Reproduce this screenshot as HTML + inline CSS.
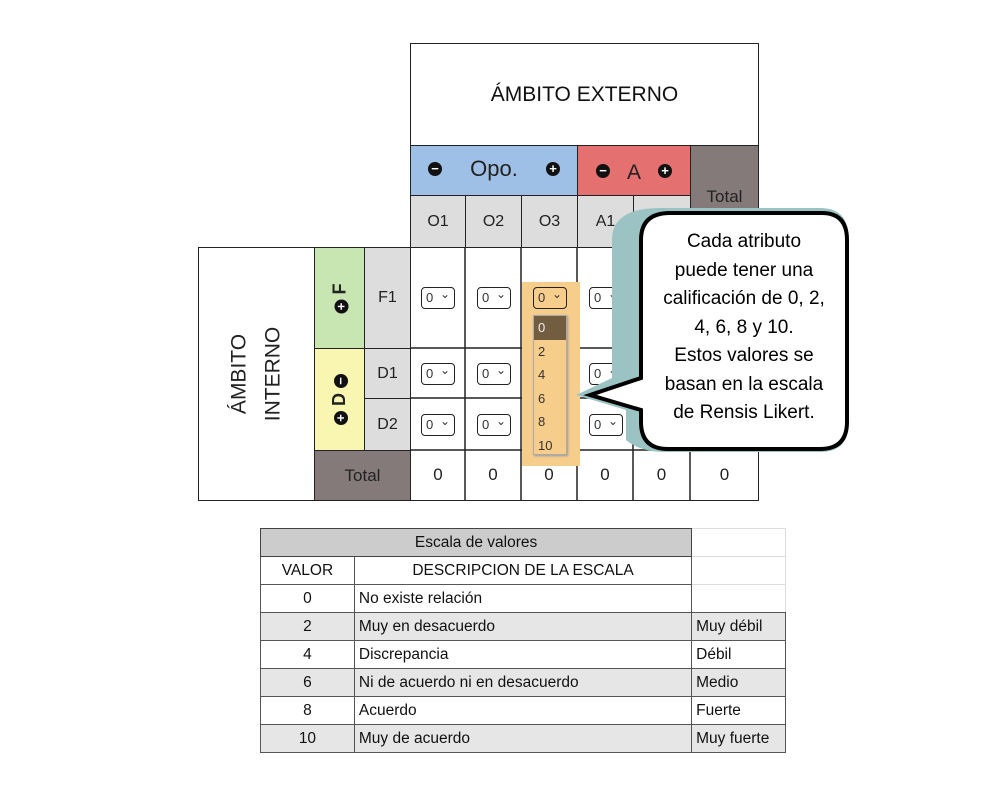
<!DOCTYPE html><html><head><meta charset="utf-8"><style>
body{margin:0;width:1004px;height:790px;background:#fff;position:relative;overflow:hidden;font-family:"Liberation Sans",sans-serif}
.a{position:absolute;box-sizing:border-box;display:flex;align-items:center;justify-content:center;color:#222}
.b{border:1px solid #222}
.sel{position:absolute;width:34px;height:22px;border:1.5px solid #222;border-radius:4px;background:#fff;font-size:13px;box-sizing:border-box;padding-left:4px;line-height:19px;color:#333}
.sel:after{content:"⌄";position:absolute;right:4px;top:-3px;font-size:12px}
.t td{border:1px solid #555;padding:0 4px;height:27px;font-size:15.5px;color:#111}
.ic{display:inline-block;width:14px;height:14px;border-radius:50%;background:#111;color:#fff;font-size:13px;line-height:13px;text-align:center;font-weight:bold}
</style></head><body>
<div class="a b" style="left:410px;top:43px;width:349px;height:103px;font-size:21px;color:#111;font-weight:500">ÁMBITO EXTERNO</div>
<div class="a b" style="left:410px;top:145px;width:168px;height:51px;background:#9fc0e6;font-size:22px;justify-content:space-between;padding:0 17px 4px 17px"><span class="ic">−</span>Opo.<span class="ic">+</span></div>
<div class="a b" style="left:577px;top:145px;width:114px;height:51px;background:#e57070;font-size:21px;justify-content:space-between;padding:0 18px 0 18px"><span class="ic">−</span><span style="margin-top:4px">A</span><span class="ic">+</span></div>
<div class="a b" style="left:690px;top:145px;width:69px;height:103px;background:#857a7a;font-size:17px">Total</div>
<div class="a b" style="left:410px;top:195px;width:56px;height:53px;background:#ddd;font-size:16px">O1</div>
<div class="a b" style="left:465px;top:195px;width:57px;height:53px;background:#ddd;font-size:16px">O2</div>
<div class="a b" style="left:521px;top:195px;width:57px;height:53px;background:#ddd;font-size:16px">O3</div>
<div class="a b" style="left:577px;top:195px;width:57px;height:53px;background:#ddd;font-size:16px">A1</div>
<div class="a b" style="left:633px;top:195px;width:58px;height:53px;background:#ddd;font-size:16px">A2</div>
<div class="a b" style="left:198px;top:247px;width:117px;height:254px"><div style="transform:rotate(-90deg);font-size:21px;text-align:center;line-height:34px;white-space:nowrap">ÁMBITO<br>INTERNO</div></div>
<div class="a b" style="left:314px;top:247px;width:51px;height:102px;background:#c7e6b2"><div style="transform:rotate(-90deg);font-size:18px;font-weight:bold;white-space:nowrap"><span class="ic">+</span> F</div></div>
<div class="a b" style="left:314px;top:348px;width:51px;height:103px;background:#f8f6b0"><div style="transform:rotate(-90deg);font-size:18px;font-weight:bold;white-space:nowrap"><span class="ic">+</span> D <span class="ic">−</span></div></div>
<div class="a b" style="left:364px;top:247px;width:47px;height:102px;background:#ddd;font-size:16px">F1</div>
<div class="a b" style="left:364px;top:348px;width:47px;height:51px;background:#ddd;font-size:16px">D1</div>
<div class="a b" style="left:364px;top:398px;width:47px;height:53px;background:#ddd;font-size:16px">D2</div>
<div class="a b" style="left:314px;top:450px;width:97px;height:51px;background:#857a7a;font-size:17px">Total</div>
<div style="position:absolute;left:410px;top:247px;width:349px;height:254px;border:1px solid #222;box-sizing:border-box"></div>
<svg style="position:absolute;left:0;top:0" width="1004" height="790"><g stroke="#222" stroke-width="1.5">
<line x1="465" y1="247" x2="465" y2="500"/><line x1="521" y1="247" x2="521" y2="500"/><line x1="577" y1="247" x2="577" y2="500"/><line x1="633" y1="247" x2="633" y2="500"/><line x1="690" y1="247" x2="690" y2="500"/>
<line x1="410" y1="348" x2="759" y2="348"/><line x1="410" y1="398" x2="759" y2="398"/><line x1="410" y1="450" x2="759" y2="450"/></g></svg>
<div style="position:absolute;left:522px;top:282px;width:58px;height:184px;background:#f7cd8c"></div>
<div class="sel" style="left:421px;top:287px">0</div><div class="sel" style="left:477px;top:287px">0</div><div class="sel" style="left:533px;top:287px;background:#f7cd8c">0</div><div class="sel" style="left:589px;top:287px">0</div>
<div class="sel" style="left:421px;top:363px">0</div><div class="sel" style="left:477px;top:363px">0</div><div class="sel" style="left:589px;top:363px">0</div>
<div class="sel" style="left:421px;top:414px">0</div><div class="sel" style="left:477px;top:414px">0</div><div class="sel" style="left:589px;top:414px">0</div>
<div style="position:absolute;left:533px;top:315px;width:34px;height:140px;background:#f7cd8c;border:1px solid #aaa;box-sizing:border-box;font-size:13px;color:#333;line-height:23.5px;padding-left:4px;box-shadow:1px 1px 2px #999">
<div style="background:#735d40;color:#eee;margin-left:-4px;padding-left:4px">0</div>2<br>4<br>6<br>8<br>10</div>
<div class="a" style="left:410px;top:450px;width:56px;height:50px;font-size:17px">0</div>
<div class="a" style="left:465px;top:450px;width:56px;height:50px;font-size:17px">0</div>
<div class="a" style="left:521px;top:450px;width:56px;height:50px;font-size:17px">0</div>
<div class="a" style="left:577px;top:450px;width:56px;height:50px;font-size:17px">0</div>
<div class="a" style="left:633px;top:450px;width:57px;height:50px;font-size:17px">0</div>
<div class="a" style="left:690px;top:450px;width:69px;height:50px;font-size:17px">0</div>
<svg style="position:absolute;left:0;top:0" width="1004" height="790">
<path d="M660,208 H820 Q848,208 848,236 V425 Q848,452 820,452 H665 Q640,452 626,440 V410 L576,395 L612,378 V240 Q612,208 660,208Z" fill="#9bc3c3"/>
<path d="M670,213 H822 Q847,213 847,240 V422 Q847,449 820,449 H668 Q641,449 641,422 V410 L590,395 L641,378 V240 Q641,213 670,213Z" fill="#fff" stroke="#000" stroke-width="4"/>
</svg>
<div class="a" style="left:641px;top:228px;width:206px;height:200px;font-size:19px;line-height:28.5px;text-align:center;color:#000">Cada atributo<br>puede tener una<br>calificación de 0, 2,<br>4, 6, 8 y 10.<br>Estos valores se<br>basan en la escala<br>de Rensis Likert.</div>
<table class="t" style="position:absolute;left:260px;top:528px;border-collapse:collapse;width:526px">
<colgroup><col style="width:94px"><col style="width:338px"><col style="width:94px"></colgroup>
<tr><td colspan="2" style="background:#ccc;text-align:center;border:1.5px solid #444">Escala de valores</td><td style="border-color:#ddd"></td></tr>
<tr><td style="text-align:center">VALOR</td><td style="text-align:center">DESCRIPCION DE LA ESCALA</td><td style="border-color:#ddd"></td></tr>
<tr><td style="text-align:center">0</td><td>No existe relación</td><td style="border-color:#ddd #ddd #555"></td></tr>
<tr style="background:#e6e6e6"><td style="text-align:center">2</td><td>Muy en desacuerdo</td><td>Muy débil</td></tr>
<tr><td style="text-align:center">4</td><td>Discrepancia</td><td>Débil</td></tr>
<tr style="background:#e6e6e6"><td style="text-align:center">6</td><td>Ni de acuerdo ni en desacuerdo</td><td>Medio</td></tr>
<tr><td style="text-align:center">8</td><td>Acuerdo</td><td>Fuerte</td></tr>
<tr style="background:#e6e6e6"><td style="text-align:center">10</td><td>Muy de acuerdo</td><td>Muy fuerte</td></tr>
</table>
</body></html>
